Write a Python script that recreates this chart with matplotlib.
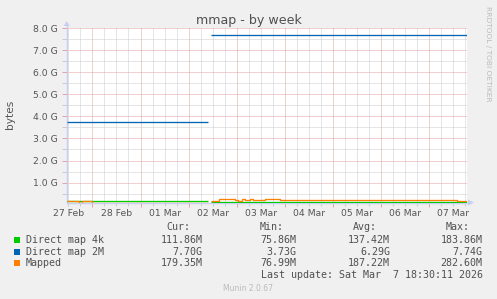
import matplotlib
matplotlib.use('Agg')
import matplotlib.pyplot as plt
import numpy as np
from matplotlib.lines import Line2D
from matplotlib.patches import Polygon, Rectangle
from matplotlib.ticker import FixedLocator, FuncFormatter, MultipleLocator
import matplotlib.transforms as mtransforms

# ---------------- data (time in days since 27 Feb 00:00, values in GiB) ----------------
day_labels = ['27 Feb', '28 Feb', '01 Mar', '02 Mar', '03 Mar', '04 Mar', '05 Mar', '06 Mar', '07 Mar']
x_start, x_end = 0.466, 8.777

t_4k = [0.466, 3.41, 3.41, 3.46, 8.777]
v_4k = [0.165, 0.165, np.nan, 0.108, 0.108]

t_2m = [0.466, 3.41, 3.41, 3.46, 8.777]
v_2m = [3.73, 3.73, np.nan, 7.70, 7.70]

t_mapped = [0.466, 0.72, 0.78, 1.0, 2.0, 3.41, 3.41, 3.46, 3.63, 3.96, 4.03, 4.10, 4.17, 4.28, 4.34, 4.59, 4.90, 5.76, 6.56, 8.57, 8.777]
v_mapped = [0.17, 0.09, 0.17, 0.08, 0.10, 0.10, np.nan, 0.18, 0.26, 0.20, 0.18, 0.26, 0.20, 0.26, 0.20, 0.26, 0.20, 0.195, 0.205, 0.167, 0.167]

series_names = ['Direct map 4k', 'Direct map 2M', 'Mapped']
series_colors = ['#00CC00', '#0066B3', '#FF8000']
cur_vals = ['111.86M', '7.70G', '179.35M']
min_vals = ['75.86M', '3.73G', '76.99M']
avg_vals = ['137.42M', '6.29G', '187.22M']
max_vals = ['183.86M', '7.74G', '282.60M']

y_ticks = [1, 2, 3, 4, 5, 6, 7, 8]
y_bottom, y_top = 0.1, 8.0

# ---------------- figure ----------------
W, H = 497, 299
fig = plt.figure(figsize=(W / 100, H / 100), dpi=100)
fig.patch.set_facecolor('#F0F0F0')


def fx(x):
    return x / W


def fy(y):
    return 1 - y / H


L, R, T, B = 66.7, 466.7, 28.0, 202.5
ax = fig.add_axes([fx(L), fy(B), (R - L) / W, (B - T) / H])
ax.set_facecolor('white')
ax.set_xlim(x_start, x_end)
ax.set_ylim(y_bottom, y_top)

for t, v, c in zip([t_4k, t_2m, t_mapped], [v_4k, v_2m, v_mapped], series_colors):
    ax.plot(t, v, color=c, lw=0.95, drawstyle='steps-post', solid_capstyle='butt', zorder=3)

# grid
ax.xaxis.set_major_locator(FixedLocator(list(range(1, 9))))
ax.xaxis.set_minor_locator(MultipleLocator(0.25))
ax.yaxis.set_major_locator(FixedLocator(y_ticks))
ax.yaxis.set_minor_locator(MultipleLocator(0.5))
ax.yaxis.set_major_formatter(FuncFormatter(lambda v, p: '%.1f G' % v))
ax.xaxis.set_major_formatter(FuncFormatter(lambda v, p: ''))
gmin, gmaj = '#CCCCCC', '#E8A2A2'
ax.grid(which='minor', color=gmin, lw=0.72, linestyle=(0, (1, 1)))
ax.grid(which='major', color=gmaj, lw=0.72, linestyle=(0, (1, 1)))
ax.set_axisbelow(True)

ax.tick_params(axis='y', which='major', length=3.5, width=0.72, color=gmaj,
               labelsize=6.7, labelcolor='#555555', pad=3.0)
ax.tick_params(axis='y', which='minor', length=3.5, width=0.72, color=gmin)
ax.tick_params(axis='x', which='major', length=3, width=0.72, color=gmaj)
ax.tick_params(axis='x', which='minor', length=2, width=0.72, color=gmin)

for s in ['top', 'right']:
    ax.spines[s].set_visible(False)
for s in ['left', 'bottom']:
    ax.spines[s].set_color('#C8CEF2')
    ax.spines[s].set_linewidth(1.0)

# x labels at noon of each day
trans = mtransforms.blended_transform_factory(ax.transData, fig.transFigure)
for i, lab in enumerate(day_labels):
    ax.text(i + 0.5, fy(215.6), lab, transform=trans, ha='center', va='baseline',
            fontsize=6.7, color='#555555', clip_on=False)

# axis extensions & arrows
acol = '#C8CEF2'
fig.add_artist(Line2D([fx(L), fx(L)], [fy(T), fy(24)], color=acol, lw=1.0))
fig.add_artist(Polygon([[fx(L - 3), fy(26)], [fx(L + 3), fy(26)], [fx(L), fy(21)]],
                       closed=True, color=acol, lw=0))
fig.add_artist(Line2D([fx(R), fx(470)], [fy(B), fy(B)], color=acol, lw=1.0))
fig.add_artist(Polygon([[fx(468), fy(B - 3)], [fx(468), fy(B + 3)], [fx(474), fy(B)]],
                       closed=True, color=acol, lw=0))

# title, y label, side text
fig.text(fx(248.5), fy(24), 'mmap - by week', ha='center', va='baseline',
         fontsize=9.1, color='#505050')
fig.text(fx(10), fy(114), 'bytes', rotation=90, ha='center', va='center',
         fontsize=7.6, color='#555555')
fig.text(fx(487.7), fy(53.5), 'RRDTOOL / TOBI OETIKER', rotation=270, ha='center',
         va='center', fontsize=5.4, color='#BBBBBB')

# legend
mono = 'DejaVu Sans Mono'
lfs = 7.2
tcol = '#505050'
hdr_y = 227.3
hdr_right = [190, 284, 376.7, 470]
val_right = [202.7, 296.7, 390, 482.7]
for h, xr in zip(['Cur:', 'Min:', 'Avg:', 'Max:'], hdr_right):
    fig.text(fx(xr), fy(hdr_y), h, ha='right', va='center', fontsize=lfs,
             family=mono, color=tcol)

row_y = [239.7, 251.7, 263.3]
for i in range(3):
    y = row_y[i]
    fig.add_artist(Rectangle((fx(14), fy(y + 3)), 6 / W, 6 / H,
                             color=series_colors[i], lw=0))
    fig.text(fx(26), fy(y), series_names[i], ha='left', va='center', fontsize=lfs,
             family=mono, color=tcol)
    for vals, xr in zip([cur_vals, min_vals, avg_vals, max_vals], val_right):
        fig.text(fx(xr), fy(y), vals[i], ha='right', va='center', fontsize=lfs,
                 family=mono, color=tcol)

fig.text(fx(482.7), fy(275.3), 'Last update: Sat Mar  7 18:30:11 2026', ha='right',
         va='center', fontsize=lfs, family=mono, color=tcol)
fig.text(fx(248), fy(288.3), 'Munin 2.0.67', ha='center', va='center', fontsize=5.5,
         color='#BBBBBB')

fig.savefig('out.png', dpi=100, facecolor=fig.get_facecolor())
